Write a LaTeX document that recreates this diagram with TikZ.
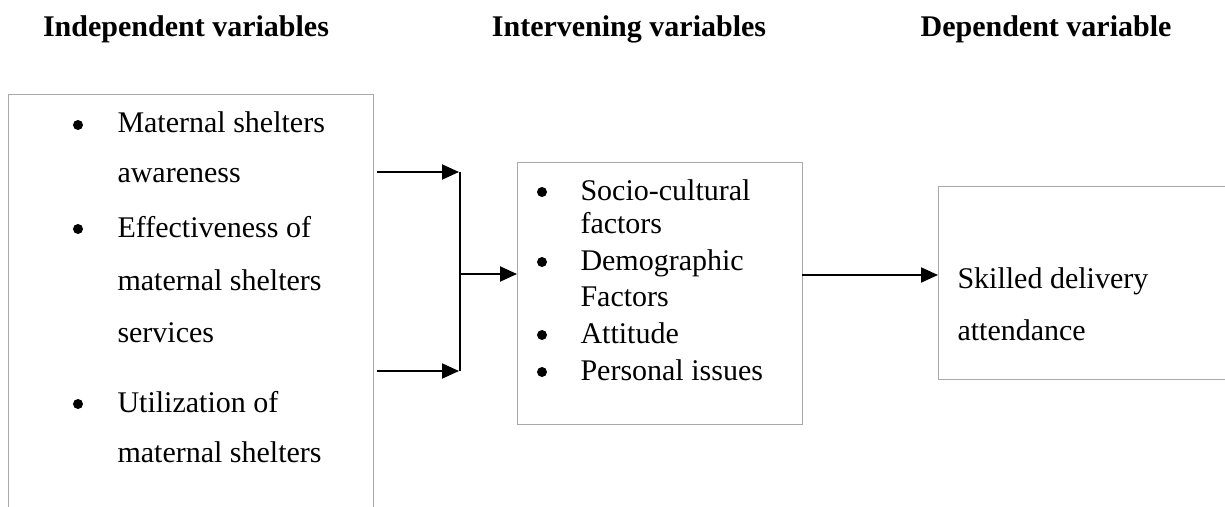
\documentclass[tikz,border=0pt]{standalone}
\usepackage{fontspec}
\setmainfont{Liberation Serif}
\usetikzlibrary{arrows.meta}
\definecolor{boxGray}{rgb}{0.66,0.66,0.66}
\tikzset{
  frame box/.style={draw=boxGray, line width=0.45pt, rectangle, inner sep=0pt, anchor=north west},
  head text/.style={font=\bfseries\fontsize{12}{14}\selectfont, anchor=base, inner sep=0pt},
  body text/.style={font=\fontsize{12}{14}\selectfont, anchor=base west, inner sep=0pt},
  bullet mark/.style={circle, fill=black, inner sep=0pt, minimum size=4pt},
  flow arrow/.style={line width=0.8pt, -{Triangle[length=6.8pt,width=6pt]}},
  flow line/.style={line width=0.8pt},
}

\begin{document}
\begin{tikzpicture}[x=0.4pt, y=-0.4pt]
% picture runs in pixel units, y going down
\useasboundingbox (0,0) rectangle (1225,506);
\clip (0,0) rectangle (1225,506);

%%%%%%%%%%%%%%%%%%%%%%%%%%%%%%%%%%%%%%%%%%%%%%%%%%%%%%%%%%%%%% Headers
\node[head text] (hIndep) at (186,37) {Independent variables};
\node[head text] (hInter) at (629,37) {Intervening variables};
\node[head text] (hDep) at (1046,37) {Dependent variable};

%%%%%%%%%%%%%%%%%%%%%%%%%%%%%%%%%%%%%%%%%%%%%%%%%%%%%%%%%%%%%% Boxes
% bottom of the left box and right side of the right box run off the page
\node[frame box, minimum width=146pt, minimum height=184pt] (indep) at (8,94) {};
\node[frame box, minimum width=114pt, minimum height=104.8pt] (mid) at (517,162) {};
\node[frame box, minimum width=120.8pt, minimum height=77.2pt] (dep) at (938,186) {};

%%%%%%%%%%%%%%%%%%%%%%%%%%%%%%%%%%%%%%%%%%%%%%%%%%%%%%%%%%%%%% Independent
\node[bullet mark] (bI1) at (78,125) {};
\node[body text] (tI1) at (117,133) {Maternal shelters};
\node[body text] (tI2) at (117,183) {awareness};
\node[bullet mark] (bI2) at (78,229) {};
\node[body text] (tI3) at (117,237) {Effectiveness of};
\node[body text] (tI4) at (117,290) {maternal shelters};
\node[body text] (tI5) at (117,342) {services};
\node[bullet mark] (bI3) at (78,404) {};
\node[body text] (tI6) at (117,412) {Utilization of};
\node[body text] (tI7) at (117,462) {maternal shelters};

%%%%%%%%%%%%%%%%%%%%%%%%%%%%%%%%%%%%%%%%%%%%%%%%%%%%%%%%%%%%%% Intervening
\node[bullet mark] (bM1) at (542,192) {};
\node[body text] (tM1) at (580,200) {Socio-cultural};
\node[body text] (tM2) at (580,233) {factors};
\node[bullet mark] (bM2) at (542,262) {};
\node[body text] (tM3) at (580,270) {Demographic};
\node[body text] (tM4) at (580,306) {Factors};
\node[bullet mark] (bM3) at (542,335) {};
\node[body text] (tM5) at (580,343) {Attitude};
\node[bullet mark] (bM4) at (542,372) {};
\node[body text] (tM6) at (580,380) {Personal issues};

%%%%%%%%%%%%%%%%%%%%%%%%%%%%%%%%%%%%%%%%%%%%%%%%%%%%%%%%%%%%%% Dependent
\node[body text] (tD1) at (957,288) {Skilled delivery};
\node[body text] (tD2) at (957,340) {attendance};

%%%%%%%%%%%%%%%%%%%%%%%%%%%%%%%%%%%%%%%%%%%%%%%%%%%%%%%%%%%%%% Arrows
\coordinate (upS) at (377,172);
\coordinate (upE) at (459,172);
\coordinate (loS) at (377,371);
\coordinate (loE) at (459,371);
\coordinate (jTop) at (460,172);
\coordinate (jBot) at (460,371);
\coordinate (jMid) at (460,274);
\coordinate (outM) at (802,275);

\draw[flow arrow] (upS) -- (upE);
\draw[flow arrow] (loS) -- (loE);
\draw[flow line] (jTop) -- (jBot);
\draw[flow arrow] (jMid) -- (jMid -| mid.west);
\draw[flow arrow] (outM) -- (outM -| dep.west);

\end{tikzpicture}
\end{document}
